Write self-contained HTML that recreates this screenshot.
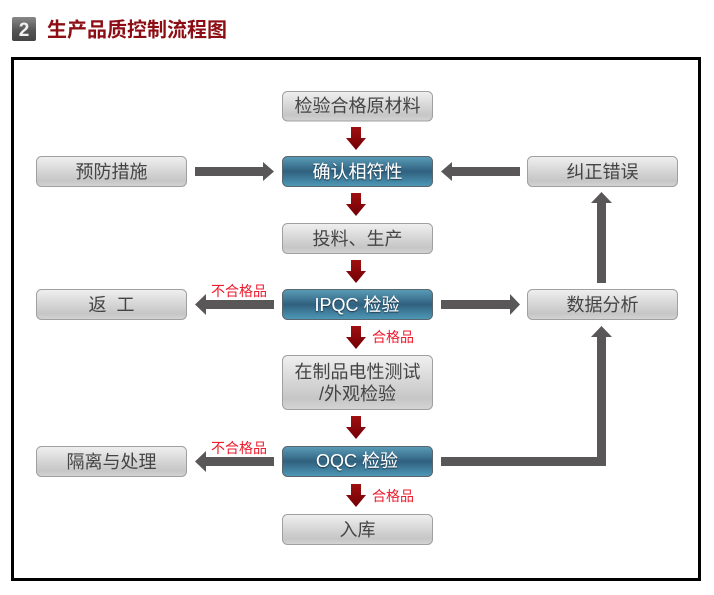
<!DOCTYPE html>
<html><head><meta charset="utf-8"><style>
html,body{margin:0;padding:0;background:#fff}
svg{display:block}
text{font-family:"Liberation Sans","Noto Sans CJK SC",sans-serif}
.g{font-size:18px;fill:#444;text-anchor:middle;letter-spacing:0}
.b{font-size:18px;fill:#fff;text-anchor:middle;filter:url(#sh)}
.r{font-size:14px;fill:#ee1a2e}
</style></head><body>
<svg width="714" height="595" viewBox="0 0 714 595" xmlns="http://www.w3.org/2000/svg">
<defs>
<linearGradient id="gr" x1="0" y1="0" x2="0" y2="1"><stop offset="0" stop-color="#f0f0f0"/><stop offset=".45" stop-color="#d8d8d8"/><stop offset=".8" stop-color="#c6c6c6"/><stop offset="1" stop-color="#d4d4d4"/></linearGradient>
<linearGradient id="bl" x1="0" y1="0" x2="0" y2="1"><stop offset="0" stop-color="#5a9db8"/><stop offset=".5" stop-color="#30617f"/><stop offset="1" stop-color="#4e9ab8"/></linearGradient>
<linearGradient id="rd" x1="0" y1="0" x2="0" y2="1"><stop offset="0" stop-color="#a01010"/><stop offset="1" stop-color="#700006"/></linearGradient>
<linearGradient id="ic" x1="0" y1="0" x2="0" y2="1"><stop offset="0" stop-color="#888"/><stop offset=".55" stop-color="#555"/><stop offset="1" stop-color="#444"/></linearGradient>
<filter id="sh" x="-10%" y="-20%" width="120%" height="140%"><feDropShadow dx="0" dy="1" stdDeviation=".5" flood-color="#123" flood-opacity=".8"/></filter>
<g id="dn"><path d="M351 0H361V11H366L356 23L346 11H351Z" fill="url(#rd)"/></g>
</defs>

<rect x="12" y="17" width="24" height="24" rx="2" fill="url(#ic)"/>
<text x="24" y="36" font-size="19" font-weight="700" fill="#f0f0f0" text-anchor="middle">2</text>
<text x="47" y="36.500" font-size="20" font-weight="700" fill="#8c0e14">生产品质控制流程图</text>

<rect x="12.5" y="58.5" width="687" height="521" fill="#fff" stroke="#000" stroke-width="3"/>

<g stroke="#a0a0a0" fill="url(#gr)">
<rect x="282.500" y="91.500" width="150" height="29.500" rx="5"/>
<rect x="36.500" y="156.500" width="150" height="30" rx="5"/>
<rect x="527.500" y="156.500" width="150" height="30" rx="5"/>
<rect x="282.500" y="223.500" width="150" height="30" rx="5"/>
<rect x="36.500" y="289.500" width="150" height="30" rx="5"/>
<rect x="527.500" y="289.500" width="150" height="30" rx="5"/>
<rect x="282.500" y="355.500" width="150" height="54" rx="5"/>
<rect x="36.500" y="446.500" width="150" height="30" rx="5"/>
<rect x="282.500" y="514.500" width="150" height="30" rx="5"/>
</g>
<g stroke="#5a666e" fill="url(#bl)">
<rect x="282.500" y="156.500" width="150" height="30" rx="5"/>
<rect x="282.500" y="289.500" width="150" height="30" rx="5"/>
<rect x="282.500" y="446.500" width="150" height="30" rx="5"/>
</g>

<g fill="#595757">
<path d="M195 167H263V162L274 171.500L263 181V176H195Z"/>
<path d="M520 167H452V162L441 171.500L452 181V176H520Z"/>
<path d="M597 283V203H591L601.500 192L612 203H606V283Z"/>
<path d="M441 300H510V294L520 304.500L510 315V309H441Z"/>
<path d="M274 300H206V294L195 304.500L206 315V309H274Z"/>
<path d="M274 457H206V451L195 461.500L206 472V466H274Z"/>
<path d="M441 457H597V337H591L601.500 326L612 337H606V466H441Z"/>
</g>

<use href="#dn" y="127"/>
<use href="#dn" y="193"/>
<use href="#dn" y="260"/>
<use href="#dn" y="326"/>
<use href="#dn" y="416"/>
<use href="#dn" y="484"/>

<text class="g" x="357.500" y="112">检验合格原材料</text>
<text class="b" x="357.500" y="178">确认相符性</text>
<text class="g" x="357.500" y="245">投料、生产</text>
<text class="b" x="357" y="311">IPQC 检验</text>
<text class="g" x="357.500" y="378">在制品电性测试</text>
<text class="g" x="357.500" y="400">/外观检验</text>
<text class="b" x="357" y="467">OQC 检验</text>
<text class="g" x="357.500" y="536">入库</text>
<text class="g" x="111.500" y="178">预防措施</text>
<text class="g" x="111.500" y="311">返&#160;&#160;工</text>
<text class="g" x="111.500" y="468">隔离与处理</text>
<text class="g" x="602.500" y="178">纠正错误</text>
<text class="g" x="602.500" y="311">数据分析</text>

<text class="r" x="211" y="296">不合格品</text>
<text class="r" x="372" y="342">合格品</text>
<text class="r" x="211" y="453">不合格品</text>
<text class="r" x="372" y="501">合格品</text>
</svg>
</body></html>
